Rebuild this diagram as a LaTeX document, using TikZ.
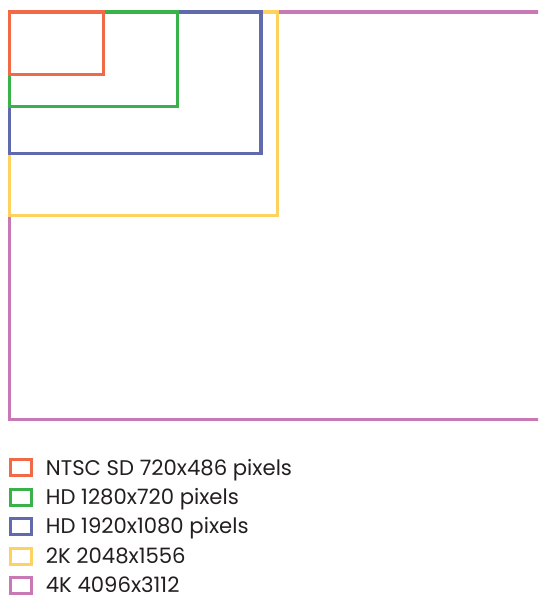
\documentclass[tikz,border=0pt]{standalone}
\usepackage{fontspec}
\setmainfont{Poppins}
\usetikzlibrary{positioning}
\definecolor{sdorange}{RGB}{240,106,72}
\definecolor{hdgreen}{RGB}{58,178,74}
\definecolor{fhdblue}{RGB}{96,106,172}
\definecolor{twokyellow}{RGB}{254,210,96}
\definecolor{fourkpink}{RGB}{200,120,180}
\definecolor{txtgray}{RGB}{35,31,32}
\tikzset{
  frm/.style={line width=3.5pt, line join=miter},
  legbox/.style={draw, rectangle, line width=3pt, minimum width=21pt, minimum height=16pt, inner sep=0pt},
  legtxt/.style={anchor=base west, inner sep=0pt, text=txtgray, font=\fontsize{21.2}{24}\selectfont},
}
\begin{document}
\begin{tikzpicture}[x=1pt, y=-1pt]
\useasboundingbox (0,0) rectangle (538,596);
\clip (0,0) rectangle (538,596);

% resolution frames, largest first
\draw[frm, fourkpink] (560,12) -- (9.7,12) -- (9.7,419.7) -- (560,419.7);
\draw[frm, twokyellow] (9.7,12) rectangle (277.7,215.5);
\draw[frm, fhdblue] (9.7,12) rectangle (261,153.5);
\draw[frm, hdgreen] (9.7,12) rectangle (177.3,106.5);
\draw[frm, sdorange] (9.7,12) rectangle (103.7,74.5);

% legend
\node[legbox, sdorange] (sdkey) at (21.3,467.8) {};
\node[legbox, hdgreen, below=10.4pt of sdkey] (hdkey) {};
\node[legbox, fhdblue, below=10.4pt of hdkey] (fhdkey) {};
\node[legbox, twokyellow, below=10.4pt of fhdkey] (twokkey) {};
\node[legbox, fourkpink, below=10.4pt of twokkey] (fourkkey) {};

\node[legtxt] (sdtxt) at (45.7,475) {NTSC SD 720x486 pixels};
\node[legtxt] (hdtxt) at (45.7,504.4) {HD 1280x720 pixels};
\node[legtxt] (fhdtxt) at (45.7,533.8) {HD 1920x1080 pixels};
\node[legtxt] (twoktxt) at (45.7,563.2) {2K 2048x1556};
\node[legtxt] (fourktxt) at (45.7,592.6) {4K 4096x3112};

\end{tikzpicture}
\end{document}
